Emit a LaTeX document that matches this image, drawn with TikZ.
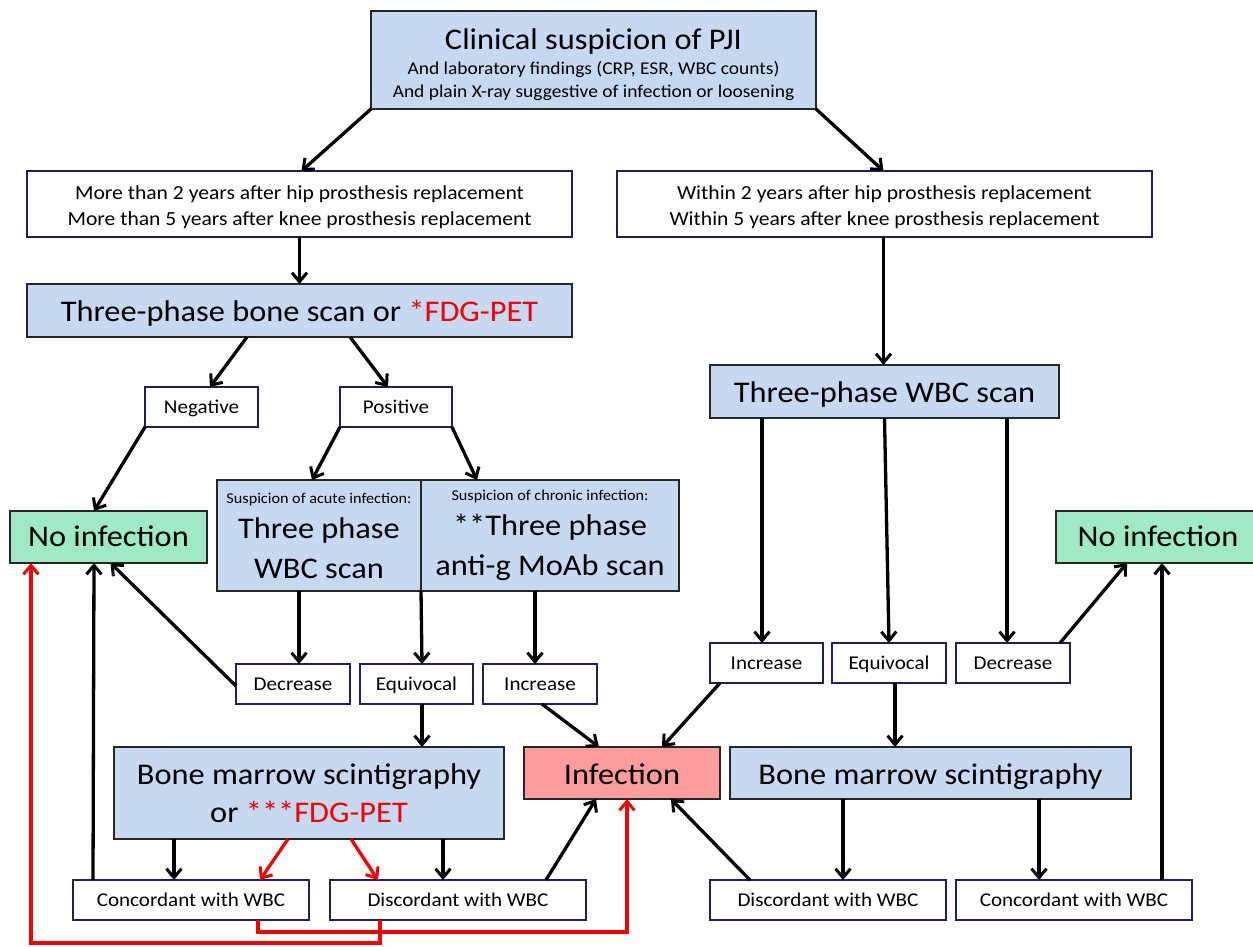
\documentclass[tikz,border=0pt]{standalone}
\usepackage{fontspec}
\setmainfont{Carlito}[FakeStretch=1.08]
\usetikzlibrary{arrows.meta}
\definecolor{boxblue}{HTML}{C6D9F1}
\definecolor{boxgreen}{HTML}{9EEBC3}
\definecolor{boxpink}{HTML}{FF9D9D}
\definecolor{navy}{HTML}{1F1F5F}
\definecolor{pjired}{HTML}{F00000}
\newcommand{\fsz}[2]{\fontsize{#1}{#2}\selectfont}
\begin{document}
\begin{tikzpicture}[x=1pt,y=-1pt,
  every node/.style={inner sep=0pt,outer sep=0pt,align=center,text=black},
  bluebox/.style={draw=black!85,fill=boxblue,line width=2pt},
  whitebox/.style={draw=navy,fill=white,line width=2pt},
  greenbox/.style={draw=black!85,fill=boxgreen,line width=2pt},
  pinkbox/.style={draw=black!85,fill=boxpink,line width=2pt},
  sz/.style 2 args={minimum width=#1pt,minimum height=#2pt},
  big/.style={font=\fsz{30}{39},text height=22pt,text depth=0pt},
  med/.style={font=\fsz{20}{26}},
  small/.style={font=\fsz{19.5}{24},text height=13pt,text depth=0pt},
  tip/.tip={Straight Barb[length=9pt,width=15pt,line width=3pt]},
  arr/.style={line width=3.3pt,-tip},
  redarr/.style={arr,draw=pjired},
  redline/.style={line width=3.3pt,draw=pjired}
]
\useasboundingbox[fill=white] (0,0) rectangle (1253,946);

% ---------- nodes ----------
\node[bluebox,sz={445}{98},font=\fsz{18}{23}] (top) at (593.5,60)
  {{\fsz{30}{30}\rule{0pt}{30pt}Clinical suspicion of PJI}\\[2pt]
   {And laboratory findings (CRP, ESR, WBC counts)}\\
   {And plain X-ray suggestive of infection or loosening}};

\node[whitebox,sz={545}{66},med] (left1) at (299.5,204)
  {{\rule{0pt}{21pt}More than 2 years after hip prosthesis replacement}\\
   {More than 5 years after knee prosthesis replacement}};
\node[whitebox,sz={535}{66},med] (right1) at (884.5,204)
  {{\rule{0pt}{21pt}Within 2 years after hip prosthesis replacement}\\
   {Within 5 years after knee prosthesis replacement}};

\node[bluebox,sz={545}{53},big] (bone) at (299.5,310.5)
  {Three-phase bone scan or \textcolor{pjired}{*FDG-PET}};
\node[whitebox,sz={113}{40},small] (neg) at (201.5,407) {Negative};
\node[whitebox,sz={112}{40},small] (pos) at (396,407) {Positive};

\node[bluebox,sz={349}{53},big] (wbcR) at (884.5,391.5) {Three-phase WBC scan};

\node[greenbox,sz={197}{52},big,text height=19.5pt] (noinfL) at (108.5,537) {No infection};
\node[greenbox,sz={204}{52},big,text height=19.5pt] (noinfR) at (1158,537) {No infection};

\node[bluebox,sz={204}{111},font=\fsz{30}{40}] (acute) at (319,535.5)
  {{\fsz{15}{18}Suspicion of acute infection:}\\[-5pt]
   {Three phase}\\{WBC scan}};
\node[bluebox,sz={258}{111},font=\fsz{30}{40}] (chronic) at (550,535.5)
  {{\fsz{15}{18}Suspicion of chronic infection:}\\[-5pt]
   {**Three phase}\\{anti-g MoAb scan}};

\node[whitebox,sz={114}{40},small] (decL) at (293,684) {Decrease};
\node[whitebox,sz={113}{40},small] (equL) at (416.5,684) {Equivocal};
\node[whitebox,sz={114}{40},small] (incL) at (540,684) {Increase};

\node[whitebox,sz={113}{40},small] (incR) at (766.5,663) {Increase};
\node[whitebox,sz={114}{40},small] (equR) at (889,663) {Equivocal};
\node[whitebox,sz={114}{40},small] (decR) at (1013,663) {Decrease};

\node[bluebox,sz={390}{92},font=\fsz{30}{38}] (bmL) at (309,793)
  {{Bone marrow scintigraphy}\\{or \textcolor{pjired}{***FDG-PET}}};
\node[pinkbox,sz={196}{52},big] (inf) at (622,773) {Infection};
\node[bluebox,sz={401}{52},big] (bmR) at (930.5,773) {Bone marrow scintigraphy};

\node[whitebox,sz={236}{40},small] (concL) at (191,900) {Concordant with WBC};
\node[whitebox,sz={256}{40},small] (discL) at (458,900) {Discordant with WBC};
\node[whitebox,sz={236}{40},small] (discR) at (828,900) {Discordant with WBC};
\node[whitebox,sz={236}{40},small] (concR) at (1074,900) {Concordant with WBC};

% ---------- connectors ----------
\draw[arr] (top.south west) -- ([xshift=2]left1.north);
\draw[arr] (top.south east) -- ([xshift=-1]right1.north);
\draw[arr] (left1.south) -- (bone.north);
\draw[arr] ([xshift=-1]right1.south) -- ([xshift=-1]wbcR.north);

\draw[arr] ([xshift=-52.5]bone.south) -- ([xshift=8.5]neg.north);
\draw[arr] ([xshift=50.5]bone.south) -- ([xshift=-8]pos.north);
\draw[arr] (neg.south west) -- ([xshift=-14.5]noinfL.north);
\draw[arr] (pos.south west) -- ([xshift=-7]acute.north);
\draw[arr] (pos.south east) -- ([xshift=56]chronic.north west);

\draw[arr] ([xshift=-20]acute.south) -- ([xshift=6]decL.north);
\draw[arr] (acute.south east) -- ([xshift=5.5]equL.north);
\draw[arr] ([xshift=-15]chronic.south) -- ([xshift=-5]incL.north);
\draw[arr] ([yshift=-2]decL.west) -- ([xshift=2]noinfL.south);
\draw[arr] ([xshift=5.5]equL.south) -- ([xshift=113]bmL.north);
\draw[arr] ([xshift=2]incL.south) -- ([xshift=-23]inf.north);

\draw[arr] ([xshift=-122.5]wbcR.south) -- ([xshift=-4.5]incR.north);
\draw[arr] (wbcR.south) -- (equR.north);
\draw[arr] ([xshift=122.5]wbcR.south) -- ([xshift=-6]decR.north);
\draw[arr] ([xshift=10]incR.south west) -- ([xshift=40]inf.north);
\draw[arr] ([xshift=47]decR.north) -- ([xshift=71]noinfR.south west);
\draw[arr] ([xshift=6]equR.south) -- ([xshift=-35.5]bmR.north);
\draw[arr] ([xshift=-87.5]bmR.south) -- ([xshift=15]discR.north);
\draw[arr] ([xshift=108.5]bmR.south) -- ([xshift=-35]concR.north);
\draw[arr] ([xshift=40]discR.north west) -- ([xshift=49]inf.south);
\draw[arr] ([xshift=88]concR.north) -- ([xshift=4]noinfR.south);

\draw[arr] ([xshift=-135]bmL.south) -- ([xshift=-17]concL.north);
\draw[arr] ([xshift=134]bmL.south) -- ([xshift=-15]discL.north);
\draw[redarr] ([xshift=-21]bmL.south) -- ([xshift=69]concL.north);
\draw[redarr] ([xshift=42]bmL.south) -- ([xshift=-80]discL.north);
\draw[arr] ([xshift=20]concL.north west) -- ([xshift=-14.5]noinfL.south);
\draw[arr] ([xshift=-40]discL.north east) -- ([xshift=72]inf.south west);

\draw[redline,-tip] ([xshift=67]concL.south) -- ++(0,12) -| ([xshift=5]inf.south);
\draw[redline,-tip] ([xshift=-78]discL.south) -- ++(0,23) -| ([xshift=-77.5]noinfL.south);
\end{tikzpicture}
\end{document}
